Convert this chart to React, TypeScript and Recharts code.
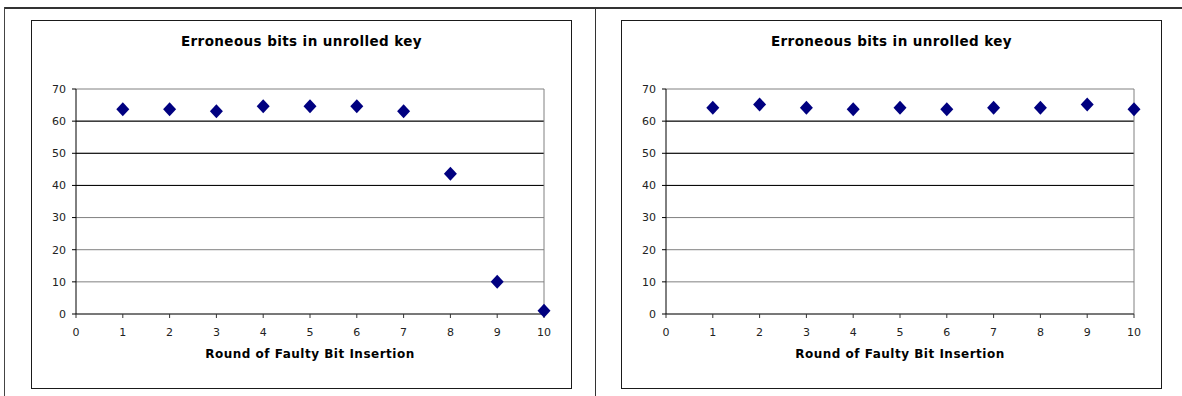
import React from 'react';
import { ScatterChart, Scatter, XAxis, YAxis, CartesianGrid, ReferenceLine, Label } from 'recharts';

const rounds = [1, 2, 3, 4, 5, 6, 7, 8, 9, 10];
const leftErrors = [63.7, 63.7, 63.1, 64.6, 64.6, 64.6, 63.1, 43.6, 10, 1];
const rightErrors = [64.2, 65.2, 64.2, 63.7, 64.2, 63.7, 64.2, 64.2, 65.2, 63.7];
const xTicks = [0, 1, 2, 3, 4, 5, 6, 7, 8, 9, 10];
const yTicks = [0, 10, 20, 30, 40, 50, 60, 70];
const darkGridValues = [40, 50, 60];

const chartTitle = 'Erroneous bits in unrolled key';
const xAxisTitle = 'Round of Faulty Bit Insertion';

const FONT = '"DejaVu Sans", Verdana, sans-serif';
const NAVY = '#000080';

const Diamond = (props: any) => {
  const { cx, cy } = props;
  if (cx == null || cy == null) return null;
  const w = 6.5;
  const h = 7;
  return (
    <polygon
      points={`${cx},${cy - h} ${cx + w},${cy} ${cx},${cy + h} ${cx - w},${cy}`}
      fill={NAVY}
    />
  );
};

function ErrorChart({ values, left }: { values: number[]; left: number }) {
  const data = rounds.map((r, i) => ({ x: r, y: values[i] }));
  return (
    <div
      style={{
        position: 'absolute',
        left,
        top: 20,
        width: 541,
        height: 369,
        boxSizing: 'border-box',
        border: '1px solid #1a1a1a',
        background: '#fff',
      }}
    >
      <div
        style={{
          position: 'absolute',
          top: 13,
          left: 0,
          width: '100%',
          textAlign: 'center',
          fontSize: 13.5,
          lineHeight: '14px',
          fontWeight: 'bold',
          letterSpacing: 0.4,
          color: '#000',
        }}
      >
        {chartTitle}
      </div>
      <ScatterChart width={539} height={367} margin={{ top: 68, right: 27, bottom: 4, left: 0 }}>
        <CartesianGrid vertical={false} stroke="#808080" strokeWidth={1} />
        {darkGridValues.map((v) => (
          <ReferenceLine key={v} y={v} stroke="#000" strokeWidth={1} />
        ))}
        <ReferenceLine x={10} stroke="#808080" strokeWidth={1} />
        <XAxis
          type="number"
          dataKey="x"
          domain={[0, 10]}
          ticks={xTicks}
          interval={0}
          height={70}
          tickSize={4}
          tickMargin={10}
          axisLine={{ stroke: '#333' }}
          tickLine={{ stroke: '#333' }}
          tick={{ fill: '#222', fontSize: 11, fontFamily: FONT }}
        >
          <Label
            value={xAxisTitle}
            position="insideBottom"
            offset={26}
            fill="#000"
            fontSize={12}
            fontWeight="bold"
            fontFamily={FONT}
            letterSpacing={0.5}
          />
        </XAxis>
        <YAxis
          type="number"
          dataKey="y"
          domain={[0, 70]}
          ticks={yTicks}
          interval={0}
          width={44}
          tickSize={4}
          tickMargin={6}
          axisLine={{ stroke: '#000' }}
          tickLine={{ stroke: '#000' }}
          tick={{ fill: '#222', fontSize: 11, fontFamily: FONT }}
        />
        <Scatter data={data} fill={NAVY} shape={<Diamond />} isAnimationActive={false} />
      </ScatterChart>
    </div>
  );
}

export default function App() {
  return (
    <div
      style={{
        position: 'absolute',
        left: 0,
        top: 0,
        width: 1182,
        height: 396,
        background: '#fff',
        overflow: 'hidden',
        fontFamily: FONT,
      }}
    >
      <div style={{ position: 'absolute', left: 4, top: 7, width: 1178, height: 2, background: '#333' }} />
      <div style={{ position: 'absolute', left: 4, top: 7, width: 1, height: 389, background: '#444' }} />
      <div style={{ position: 'absolute', left: 595, top: 7, width: 1, height: 389, background: '#333' }} />
      <ErrorChart values={leftErrors} left={31} />
      <ErrorChart values={rightErrors} left={621} />
    </div>
  );
}
